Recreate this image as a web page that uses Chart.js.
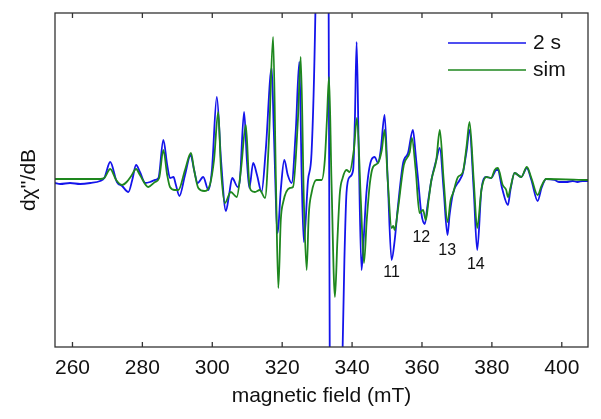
<!DOCTYPE html>
<html>
<head>
<meta charset="utf-8">
<script src="https://cdn.jsdelivr.net/npm/chart.js@4.4.1/dist/chart.umd.min.js"></script>
<style>
  body { margin: 0; background: #fff; }
  #wrap { width: 601px; height: 419px; position: relative; }
</style>
</head>
<body>
<div id="wrap"><canvas id="epr"></canvas></div>
<script>
// measured spectrum (2 s) - field in mT, signal in arbitrary units
const fieldBlue = [255.0,256.5,259.3,262.2,265.1,267.9,269.1,270.8,272.7,274.2,276.0,277.1,278.2,279.3,280.8,282.2,283.6,284.6,
  286.0,287.1,287.9,288.9,289.6,290.6,292.2,293.8,294.8,295.8,297.4,298.9,299.9,301.3,302.5,303.9,304.8,305.7,307.3,307.9,
  309.1,309.9,310.6,311.7,312.8,314.1,315.3,317.0,317.6,318.7,319.6,320.6,321.6,322.7,323.9,324.9,325.6,326.2,327.4,328.4,
  329.5,330.2,331.3,332.5,333.3,333.6,334.2,335.3,336.5,337.3,337.8,338.4,339.3,340.3,340.8,341.3,341.9,342.7,343.3,344.1,
  345.5,346.5,347.4,348.2,349.3,350.2,351.3,352.2,353.1,354.6,356.0,357.4,358.2,358.9,359.8,360.8,361.6,362.7,364.1,365.1,
  366.2,367.3,367.9,368.9,370.8,371.7,372.8,373.6,374.8,375.8,377.0,378.4,379.8,381.3,381.7,382.9,384.6,385.3,386.5,388.4,
  390.0,391.3,393.1,394.2,395.5,397.9,399.3,401.3,403.1,404.5,406.0,407.5];
const signalBlue = [-3,-4,-3,-4,-3,-1,2,18,-2,-6,-12,0,15,8,-3,-2,0,2,
  40,15,2,3,-5,-16,5,25,10,-3,3,-10,10,83,20,-31,-15,2,-7,0,
  68,20,-8,17,5,-12,30,112,50,-53,-10,20,5,-3,50,118,0,-62,0,27,
  167,350,420,350,167,-167,-350,-420,-350,-167,-80,-13,3,10,60,138,30,-90,-60,-13,
  20,23,17,30,65,0,-80,-60,-27,17,27,50,25,0,-33,-44,-25,0,20,32,
  -10,-55,-35,-13,0,7,30,50,-10,-70,-10,3,2,10,10,-8,-25,-10,7,3,
  12,0,-21,-8,1,0,-2,-2,-1,-2,-1,-1];

// simulation
const fieldSim = [255.0,267.9,269.1,270.8,272.5,274.2,275.5,276.8,278.2,279.3,281.7,283.6,284.8,286.0,287.1,287.9,289.3,290.3,
  292.2,293.9,294.8,296.0,297.7,299.3,300.5,301.7,302.5,303.6,305.3,307.0,308.2,309.6,310.5,311.0,312.2,313.6,315.1,316.2,
  317.4,318.2,318.9,319.6,320.3,322.2,323.1,324.5,325.3,326.2,327.0,327.6,328.4,329.8,331.3,332.2,332.8,333.4,334.1,335.1,
  335.8,336.5,337.3,338.4,339.3,340.5,341.4,342.5,343.4,344.2,345.1,346.0,347.4,348.5,349.3,350.2,351.3,351.8,352.2,353.1,
  354.8,356.5,357.1,358.2,359.3,360.3,361.1,361.9,362.7,364.1,365.1,366.2,367.3,368.2,368.9,370.3,371.7,372.8,373.6,374.8,
  375.8,377.0,378.4,379.8,380.8,381.7,383.1,384.1,384.6,385.3,386.5,388.4,390.0,391.3,393.1,394.2,395.5,407.5];
const signalSim = [1,1,2,11,0,-5,-2,4,11,5,-7,-2,2,30,5,-7,-10,-10,
  10,27,10,-8,-11,-5,20,68,10,-23,-12,-17,10,55,0,-10,-12,-10,-18,40,
  143,0,-108,-40,-22,-8,-7,60,123,-20,-90,-35,-13,0,0,20,60,103,0,-117,
  -60,-13,2,10,8,30,62,-20,-83,-40,-3,13,17,30,50,0,-48,-46,-50,-30,
  15,28,42,10,-33,-30,-40,-20,0,20,50,0,-42,-20,-13,3,8,35,58,0,
  -48,-10,3,2,10,12,-5,-10,-17,-8,7,3,13,2,-15,-6,1,0];

const xTicks = [260, 280, 300, 320, 340, 360, 380, 400];

// numbered lines
const peakNames = ['11', '12', '13', '14'];
const peakField = [351.3, 359.8, 367.2, 375.4];
const peakSignal = [-93, -58, -71, -85];

const FONT = "'Liberation Sans', Arial, sans-serif";

function pts(xs, ys) {
  return xs.map((x, i) => ({x: x, y: ys[i]}));
}

// frame with inward ticks, peak numbers and the legend box
const decorPlugin = {
  id: 'decor',
  afterDraw(chart) {
    const ctx = chart.ctx, a = chart.chartArea, xs = chart.scales.x, ys = chart.scales.y;
    ctx.save();
    ctx.strokeStyle = '#333';
    ctx.lineWidth = 1.3;
    ctx.strokeRect(a.left, a.top, a.right - a.left, a.bottom - a.top);
    xTicks.forEach(function(v) {
      var px = xs.getPixelForValue(v);
      ctx.beginPath();
      ctx.moveTo(px, a.bottom); ctx.lineTo(px, a.bottom - 5);
      ctx.moveTo(px, a.top); ctx.lineTo(px, a.top + 5);
      ctx.stroke();
    });

    ctx.fillStyle = '#111';
    ctx.font = '16px ' + FONT;
    ctx.textAlign = 'center';
    ctx.textBaseline = 'middle';
    peakNames.forEach(function(t, i) {
      ctx.fillText(t, xs.getPixelForValue(peakField[i]), ys.getPixelForValue(peakSignal[i]));
    });

    // legend
    ctx.font = '21px ' + FONT;
    ctx.textAlign = 'left';
    chart.data.datasets.slice().reverse().forEach(function(ds, i) {
      var y = a.top + 30 + i * 27;
      ctx.strokeStyle = ds.borderColor;
      ctx.lineWidth = 1.6;
      ctx.beginPath();
      ctx.moveTo(a.right - 140, y); ctx.lineTo(a.right - 62, y);
      ctx.stroke();
      ctx.fillStyle = '#111';
      ctx.fillText(ds.label, a.right - 55, y);
    });
    ctx.restore();
  }
};

new Chart(document.getElementById('epr'), {
  type: 'line',
  data: {
    datasets: [
      {
        label: 'sim',
        data: pts(fieldSim, signalSim),
        borderColor: 'rgb(30,135,30)',
        borderWidth: 1.8,
        pointRadius: 0,
        cubicInterpolationMode: 'monotone',
        order: 1
      },
      {
        label: '2 s',
        data: pts(fieldBlue, signalBlue),
        borderColor: 'rgb(20,20,235)',
        borderWidth: 1.8,
        pointRadius: 0,
        cubicInterpolationMode: 'monotone',
        order: 2
      }
    ]
  },
  options: {
    responsive: true, maintainAspectRatio: false,
    animation: false,
    layout: { padding: { top: 13, right: 13, left: 0, bottom: 0 } },
    plugins: { legend: { display: false }, tooltip: { enabled: false } },
    scales: {
      x: {
        type: 'linear', min: 255, max: 407.5,
        grid: { display: false, drawTicks: false },
        border: { display: false },
        ticks: { stepSize: 20, includeBounds: false, padding: 9, color: '#111', font: { size: 21, family: FONT } },
        afterBuildTicks: function(s) { s.ticks = xTicks.map(v => ({value: v})); },
        afterFit: function(s) { s.height = 72; },
        title: { display: true, text: 'magnetic field (mT)', color: '#111', font: { size: 21, family: FONT }, padding: { top: 0, bottom: 10 } }
      },
      y: {
        min: -167, max: 167,
        grid: { display: false, drawTicks: false },
        border: { display: false },
        ticks: { display: false },
        afterFit: function(s) { s.width = 55; },
        title: { display: true, text: "dχ''/dB", color: '#111', font: { size: 21, family: FONT }, padding: { top: 17, bottom: 0 } }
      }
    }
  },
  plugins: [decorPlugin]
});
</script>
</body>
</html>
